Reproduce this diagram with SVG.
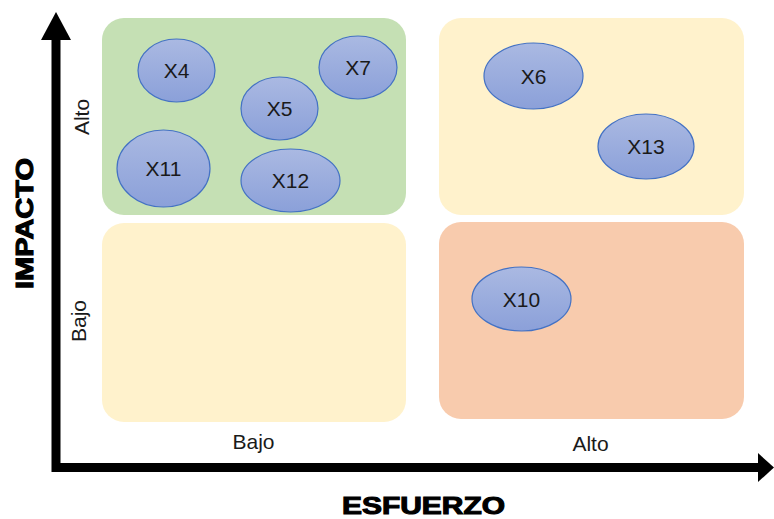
<svg xmlns="http://www.w3.org/2000/svg" width="774" height="519" viewBox="0 0 774 519">
<defs>
<linearGradient id="g" x1="0" y1="0" x2="0" y2="1">
<stop offset="0" stop-color="#AAB9E2"/>
<stop offset="1" stop-color="#8BA0D9"/>
</linearGradient>
<style>
.q{stroke:none}
.n ellipse{fill:url(#g);stroke:#4472C4;stroke-width:1.2}
.n text{font-family:"Liberation Sans",Arial,sans-serif;font-size:21px;fill:#1a1a1a;text-anchor:middle}
.lab{font-family:"Liberation Sans",Arial,sans-serif;font-size:21px;fill:#1a1a1a;text-anchor:middle}
.ax{font-family:"Liberation Sans",Arial,sans-serif;font-weight:900;font-size:24px;fill:#000;stroke:#000;stroke-width:1.1;text-anchor:middle}
</style>
</defs>
<rect width="774" height="519" fill="#fff"/>
<g id="quadrants">
<rect id="q-hl" class="q" x="102" y="18" width="304" height="197" rx="22" fill="#C5E0B4"/>
<rect id="q-hh" class="q" x="439" y="18" width="305" height="197" rx="22" fill="#FFF2CC"/>
<rect id="q-ll" class="q" x="102" y="223" width="304" height="199" rx="22" fill="#FFF2CC"/>
<rect id="q-lh" class="q" x="439" y="222" width="305" height="197" rx="22" fill="#F8CBAD"/>
</g>
<g id="connectors">
<polyline points="56,40 56,467.5 758,467.5" fill="none" stroke="#000" stroke-width="9"/>
<polygon points="56,12 41,40 71,40" fill="#000"/>
<polygon points="774,467.5 758,453 758,482" fill="#000"/>
</g>
<g id="X4" class="n"><ellipse cx="176.5" cy="70.5" rx="38.5" ry="31.5"/><text x="176.5" y="78">X4</text></g>
<g id="X7" class="n"><ellipse cx="358" cy="67.5" rx="39" ry="31.5"/><text x="358" y="75">X7</text></g>
<g id="X5" class="n"><ellipse cx="279.5" cy="108.5" rx="38.5" ry="31.5"/><text x="279.5" y="116">X5</text></g>
<g id="X11" class="n"><ellipse cx="163.5" cy="168.5" rx="46.5" ry="38.5"/><text x="163.5" y="176">X11</text></g>
<g id="X12" class="n"><ellipse cx="290.5" cy="180.5" rx="49.5" ry="31.5"/><text x="290.5" y="188">X12</text></g>
<g id="X6" class="n"><ellipse cx="533.5" cy="76" rx="49.5" ry="33"/><text x="533.5" y="83.5">X6</text></g>
<g id="X13" class="n"><ellipse cx="646" cy="146.5" rx="48" ry="32.5"/><text x="646" y="154">X13</text></g>
<g id="X10" class="n"><ellipse cx="521.5" cy="299" rx="49.5" ry="32"/><text x="521.5" y="306.5">X10</text></g>
<g id="labels">
<text class="lab" transform="translate(88.5,117) rotate(-90)">Alto</text>
<text class="lab" transform="translate(86,321) rotate(-90)">Bajo</text>
<text class="lab" x="253.5" y="449">Bajo</text>
<text class="lab" x="590.5" y="451">Alto</text>
<text class="ax" transform="translate(33,223.5) rotate(-90)" textLength="131" lengthAdjust="spacingAndGlyphs">IMPACTO</text>
<text class="ax" x="423.5" y="514" textLength="163" lengthAdjust="spacingAndGlyphs">ESFUERZO</text>
</g>
</svg>
